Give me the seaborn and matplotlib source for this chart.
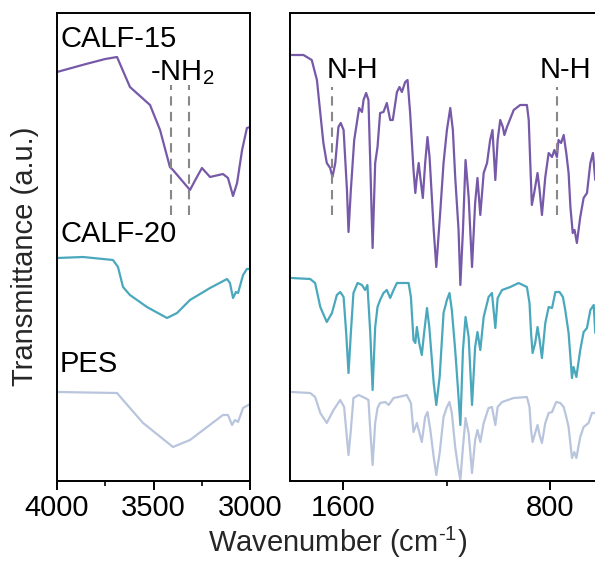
import numpy as np
import pandas as pd
import matplotlib
matplotlib.use("Agg")
import matplotlib.pyplot as plt
from matplotlib.ticker import MultipleLocator
import seaborn as sns

# high wavenumber region (cm-1) and transmittance (a.u.)
calf15_hi_wn = [4000, 3850, 3750, 3689, 3622, 3518, 3466, 3415, 3399, 3311, 3275, 3249,
                3207, 3140, 3114, 3088, 3067, 3041, 3016, 3000]
calf15_hi_t = [409, 417, 422, 424, 394, 376, 351, 314, 311, 291, 304, 313,
               304, 307, 303, 285, 298, 331, 353, 354]

calf20_hi_wn = [4000, 3865, 3710, 3684, 3658, 3622, 3534, 3430, 3378, 3311, 3207, 3119,
                3104, 3088, 3073, 3062, 3036, 3016, 3000]
calf20_hi_t = [223, 224, 221, 214, 194, 186, 174, 163, 168, 181, 193, 202,
               198, 183, 189, 188, 206, 212, 212]

pes_hi_wn = [4000, 3689, 3658, 3554, 3399, 3311, 3140, 3114, 3093, 3078, 3062, 3036, 3000]
pes_hi_t = [89, 88, 81, 58, 34, 41, 66, 66, 56, 61, 59, 73, 77]

# fingerprint region
calf15_lo_wn = [1798, 1753, 1721, 1701, 1688, 1676, 1663, 1650, 1641, 1630, 1618, 1609,
                1598, 1585, 1579, 1570, 1557, 1538, 1527, 1521, 1511, 1502, 1495, 1486,
                1476, 1467, 1457, 1444, 1431, 1418, 1408, 1392, 1382, 1373, 1360, 1351,
                1341, 1328, 1321, 1315, 1308, 1302, 1292, 1283, 1274, 1266, 1250, 1240,
                1225, 1212, 1199, 1186, 1176, 1167, 1154, 1147, 1137, 1127, 1115, 1102,
                1090, 1081, 1070, 1057, 1044, 1032, 1023, 1012, 1003, 993, 983, 977,
                967, 941, 916, 890, 883, 877, 871, 862, 849, 841, 832, 819,
                806, 793, 784, 774, 768, 758, 748, 738, 729, 722, 713, 706,
                697, 684, 671, 658, 645, 635, 626]
calf15_lo_t = [426, 426, 421, 401, 368, 338, 318, 313, 304, 318, 354, 358,
               351, 291, 249, 291, 341, 373, 369, 381, 388, 381, 318, 233,
               318, 334, 368, 369, 378, 361, 361, 389, 394, 389, 399, 401,
               368, 311, 288, 304, 318, 304, 283, 318, 344, 324, 251, 214,
               268, 318, 351, 373, 351, 304, 251, 196, 251, 321, 284, 214,
               278, 303, 266, 308, 318, 341, 351, 301, 341, 361, 354, 346,
               354, 371, 376, 376, 361, 318, 276, 288, 308, 291, 266, 304,
               328, 324, 331, 324, 341, 338, 346, 328, 308, 274, 248, 251,
               238, 264, 283, 288, 318, 328, 301]

calf20_lo_wn = [1798, 1727, 1708, 1688, 1663, 1643, 1624, 1611, 1598, 1588, 1579, 1570,
                1560, 1544, 1527, 1515, 1506, 1495, 1486, 1476, 1467, 1457, 1444, 1431,
                1418, 1405, 1392, 1347, 1338, 1328, 1321, 1315, 1306, 1296, 1287, 1276,
                1267, 1250, 1240, 1227, 1212, 1199, 1189, 1180, 1167, 1156, 1147, 1137,
                1127, 1115, 1102, 1090, 1081, 1070, 1057, 1038, 1025, 1012, 1003, 986,
                954, 922, 890, 880, 874, 868, 858, 849, 841, 832, 819, 806,
                793, 780, 764, 751, 742, 729, 716, 710, 699, 684, 671, 658,
                645, 632, 626]
calf20_lo_t = [203, 202, 198, 174, 159, 168, 186, 189, 184, 148, 108, 148,
               188, 198, 196, 191, 196, 148, 91, 154, 174, 181, 188, 191,
               183, 191, 198, 198, 184, 141, 138, 154, 138, 126, 148, 173,
               154, 98, 76, 104, 168, 181, 188, 171, 131, 91, 56, 131,
               164, 144, 76, 134, 149, 131, 164, 184, 188, 153, 183, 191,
               194, 198, 194, 178, 148, 128, 138, 154, 141, 123, 158, 174,
               173, 189, 189, 184, 171, 148, 103, 114, 104, 131, 149, 153,
               171, 176, 148]

pes_lo_wn = [1798, 1727, 1708, 1688, 1663, 1637, 1611, 1596, 1588, 1579, 1570, 1560,
             1540, 1515, 1502, 1495, 1486, 1476, 1467, 1457, 1437, 1424, 1405, 1386,
             1354, 1338, 1328, 1315, 1305, 1296, 1283, 1274, 1263, 1250, 1240, 1227,
             1212, 1199, 1189, 1180, 1167, 1156, 1147, 1137, 1127, 1115, 1102, 1090,
             1081, 1070, 1057, 1038, 1025, 1012, 1003, 986, 941, 890, 880, 874,
             868, 858, 849, 841, 832, 819, 806, 793, 777, 761, 748, 738,
             729, 716, 707, 699, 684, 671, 652, 639, 626]
pes_lo_t = [89, 88, 84, 68, 58, 71, 81, 74, 51, 26, 51, 83,
            86, 83, 81, 51, 16, 58, 73, 78, 79, 76, 83, 84,
            86, 78, 49, 58, 48, 39, 64, 69, 51, 24, 6, 28,
            64, 74, 79, 68, 34, 14, 1, 34, 63, 48, 8, 41,
            51, 39, 58, 73, 74, 56, 74, 79, 83, 84, 74, 51,
            39, 48, 56, 46, 38, 58, 68, 69, 79, 78, 74, 64,
            54, 23, 29, 23, 44, 54, 58, 68, 68]

samples = ["CALF-15", "CALF-20", "PES"]
palette = {"CALF-15": "#7659a8", "CALF-20": "#4aa8bd", "PES": "#b9c5dd"}


def long_df(pairs):
    frames = []
    for name, (wn, t) in zip(samples, pairs):
        frames.append(pd.DataFrame({"wn": wn, "t": t, "sample": name}))
    return pd.concat(frames, ignore_index=True)


hi = long_df([(calf15_hi_wn, calf15_hi_t), (calf20_hi_wn, calf20_hi_t), (pes_hi_wn, pes_hi_t)])
lo = long_df([(calf15_lo_wn, calf15_lo_t), (calf20_lo_wn, calf20_lo_t), (pes_lo_wn, pes_lo_t)])

sns.set_style("ticks")
plt.rcParams['font.family'] = ['Liberation Sans', 'DejaVu Sans']
plt.rcParams['mathtext.fontset'] = 'custom'
plt.rcParams['mathtext.rm'] = 'Liberation Sans'

FS = 21

fig = plt.figure(figsize=(5.95, 5.61), dpi=100)
ax1 = fig.add_axes([57 / 595, 1 - 481 / 561, 193 / 595, 468 / 561])
ax2 = fig.add_axes([290 / 595, 1 - 481 / 561, 312 / 595, 468 / 561])

for ax, df in [(ax1, hi), (ax2, lo)]:
    sns.lineplot(data=df, x="wn", y="t", hue="sample", palette=palette, sort=False,
                 estimator=None, linewidth=1.6, legend=False, ax=ax)
    ax.set_ylim(0, 468)
    ax.set_yticks([])
    ax.set_xlabel("")
    ax.set_ylabel("")
    for s in ax.spines.values():
        s.set_linewidth(1.4)
        s.set_color("black")
    ax.tick_params(axis="x", which="major", direction="out", length=6.5, width=1.4,
                   labelsize=FS, pad=3, colors="black")
    ax.tick_params(axis="x", which="minor", direction="out", length=3.5, width=1.4)

ax1.set_xlim(4000, 3000)
ax1.set_xticks([4000, 3500, 3000])
ax1.xaxis.set_minor_locator(MultipleLocator(250))
ax2.set_xlim(1805, 600)
ax2.set_xticks([1600, 800])
ax2.set_xticks([1200], minor=True)

dash = dict(color="#888888", linestyle=(0, (4.5, 3)), linewidth=1.5)
for x in [3411, 3316]:
    ax1.plot([x, x], [266, 396], **dash)
for x in [1641, 774]:
    ax2.plot([x, x], [266, 394], **dash)

txt = dict(fontsize=FS, va="baseline", ha="left", color="black")
ax1.text(3984, 434, "CALF-15", **txt)
ax1.text(3984, 239, "CALF-20", **txt)
ax1.text(3984, 109, "PES", **txt)
ax1.text(3518, 401, "-NH$_2$", **txt)
ax2.text(1662, 403, "N-H", **txt)
ax2.text(839, 403, "N-H", **txt)

fig.text(25 / 595, 1 - 256 / 561, "Transmittance (a.u.)", rotation=90,
         ha="center", va="center", fontsize=FS)
fig.text(338 / 595, 1 - 552 / 561, r"Wavenumber (cm$^{\text{-1}}$)", ha="center",
         va="baseline", fontsize=FS)

fig.savefig("out.png", dpi=100)
